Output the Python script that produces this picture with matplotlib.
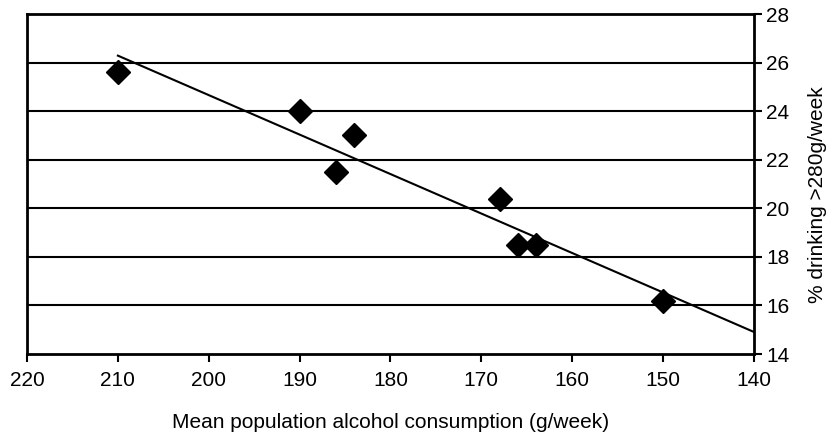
import numpy as np
import matplotlib
matplotlib.use("Agg")
import matplotlib.pyplot as plt

plt.rcParams['font.family'] = ['Liberation Sans', 'DejaVu Sans']

# Mean population alcohol consumption vs share of heavy drinkers
consumption = [210, 190, 184, 186, 168, 166, 164, 150]
pct_heavy = [25.6, 24.0, 23.0, 21.5, 20.4, 18.5, 18.5, 16.2]

x_ticks = [220, 210, 200, 190, 180, 170, 160, 150, 140]
y_ticks = [14, 16, 18, 20, 22, 24, 26, 28]
trend_span = [210, 140]

fig = plt.figure(figsize=(8.31, 4.34), dpi=100)
ax = fig.add_axes([0.0325, 0.1843, 0.8748, 0.7834])

# horizontal gridlines
for yv in y_ticks[1:-1]:
    ax.axhline(yv, color='black', lw=1.5, zorder=1)

# least-squares trend line
slope, intercept = np.polyfit(consumption, pct_heavy, 1)
tx = np.array(trend_span, dtype=float)
ax.plot(tx, slope * tx + intercept, color='black', lw=1.5, zorder=2)

ax.plot(consumption, pct_heavy, linestyle='none', marker='D', ms=12,
        color='black', zorder=3)

ax.set_xlim(220, 140)
ax.set_ylim(14, 28)
ax.set_xticks(x_ticks)
ax.set_yticks(y_ticks)

ax.yaxis.tick_right()
ax.yaxis.set_label_position('right')
for side in ['left', 'right', 'top', 'bottom']:
    ax.spines[side].set_linewidth(2)
    ax.spines[side].set_color('black')

ax.tick_params(axis='both', direction='out', length=6, width=1.5,
               labelsize=15, colors='black')
ax.tick_params(axis='x', pad=6)
ax.tick_params(axis='y', left=False, right=True, pad=3)

ax.set_xlabel('Mean population alcohol consumption (g/week)', fontsize=15,
              labelpad=17)
ax.set_ylabel('% drinking >280g/week', fontsize=15)
ax.yaxis.set_label_coords(1.075, 0.47)

fig.savefig('out.png', dpi=100, facecolor='white')
